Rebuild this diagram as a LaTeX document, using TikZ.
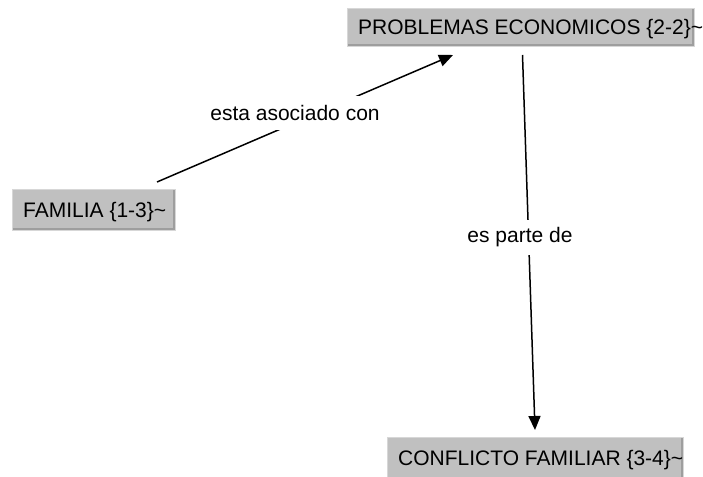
\documentclass[tikz,border=0pt]{standalone}
\usepackage{fontspec}
\setmainfont{Liberation Sans}
\usetikzlibrary{arrows.meta,calc}
\definecolor{boxfill}{RGB}{192,192,192}
\definecolor{boxlight}{RGB}{215,215,215}
\definecolor{boxdark}{RGB}{158,158,158}
\begin{document}
\begin{tikzpicture}[x=1pt,y=-1pt,
  cbox/.style={fill=boxfill, draw=boxlight, line width=1pt, inner sep=0pt, outer sep=0pt, anchor=north west,
    path picture={\draw[boxdark,line width=5pt] (path picture bounding box.south west) -- (path picture bounding box.south east) -- (path picture bounding box.north east);}},
  ctext/.style={anchor=base west, inner sep=0pt, font=\fontsize{21}{25}\selectfont},
  lbl/.style={fill=white, inner sep=0pt, minimum height=34pt, font=\fontsize{21}{25}\selectfont},
  conn/.style={line width=1.5pt, -{Triangle[length=14pt,width=12pt]}}]
\useasboundingbox (0,0) rectangle (703,476);
% concept boxes
\node[cbox, minimum width=347pt, minimum height=38pt] (pb) at (347.5,8.5) {};
\node[ctext] (pt) at (358,35) {PROBLEMAS ECONOMICOS \{2-2\}\textasciitilde};
\node[cbox, minimum width=163pt, minimum height=41pt] (fb) at (12.5,189.5) {};
\node[ctext] (ft) at (23,217) {FAMILIA \{1-3\}\textasciitilde};
\node[cbox, minimum width=296pt, minimum height=45pt] (cb) at (387.5,437.5) {};
\node[ctext] (ct) at (398,465) {CONFLICTO FAMILIAR \{3-4\}\textasciitilde};
% connectors
\draw[conn] ($(fb.north east)+(-18.5,-7.5)$) -- ($(pb.south west)+(105.5,8.5)$);
\draw[conn] ($(pb.south west)+(175,8.5)$) -- ($(cb.north west)+(147.5,-7.5)$);
% link labels
\node[lbl] (l1) at (295,113) {esta asociado con};
\node[lbl, minimum height=35pt] (l2) at (520,237.5) {es parte de};
\end{tikzpicture}
\end{document}
